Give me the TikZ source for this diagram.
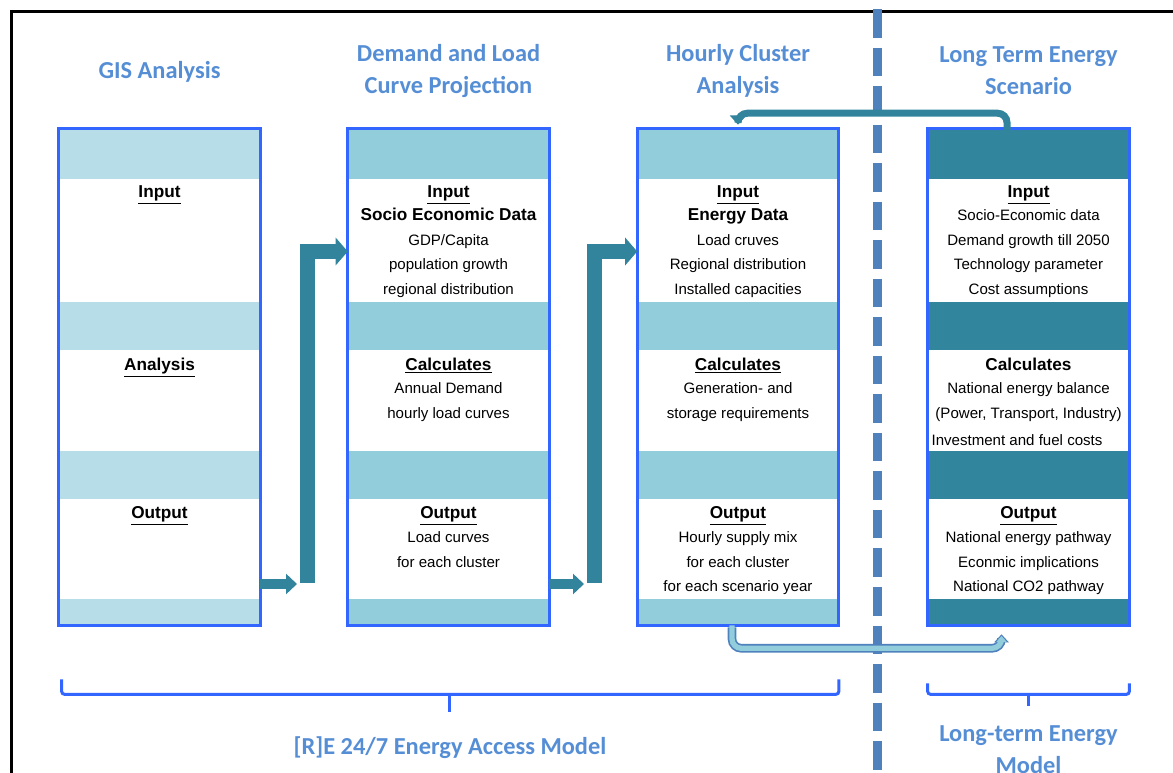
\documentclass[tikz,border=0pt]{standalone}
\usepackage{fontspec}
\setmainfont{Liberation Sans}
\newfontfamily\titlefont{Carlito}
\usetikzlibrary{arrows.meta,positioning,calc}

\definecolor{boxblue}{HTML}{3366FF}
\definecolor{gisband}{HTML}{B7DEE8}
\definecolor{lightband}{HTML}{92CDDC}
\definecolor{darkband}{HTML}{31859C}
\definecolor{flowteal}{HTML}{31849B}
\definecolor{titleblue}{HTML}{558ED5}
\definecolor{splitblue}{HTML}{4F81BD}

\begin{document}
\begin{tikzpicture}[
    x=0.75pt, y=-0.75pt,
    colbox/.style={rectangle,minimum width=150.75pt,minimum height=372pt,inner sep=0pt},
    title/.style={font=\titlefont\bfseries\fontsize{18.3pt}{24pt}\selectfont,text=titleblue,align=center},
    head/.style={font=\bfseries\fontsize{12.9pt}{15pt}\selectfont,anchor=base},
    txt/.style={font=\fontsize{11.3pt}{14pt}\selectfont,anchor=base},
    feed/.style={flowteal,line width=7.5pt,-{Triangle[width=15pt,length=8.25pt]}},
    riser/.style={flowteal,line width=11.25pt,line join=miter,-{Triangle[width=20.25pt,length=9pt]}},
    back/.style={flowteal,line width=5.25pt,rounded corners=7pt,-{Triangle[width=12pt,length=7pt]}},
    bracket/.style={boxblue,line width=2.25pt,rounded corners=2pt}
]
\useasboundingbox (0,0) rectangle (1173,773);

% Frame and split line
\draw[line width=2.25pt] (11,773) -- (11,12) -- (1173,12);
\draw[splitblue,line width=6.75pt,dash pattern=on 21.4pt off 7.5pt] (877,9) -- (877,773);

% Columns
\node[colbox] (c1) at (159.5,377) {};
\node[colbox] (c2) at (448.5,377) {};
\node[colbox] (c3) at (738,377) {};
\node[colbox] (c4) at (1028.5,377) {};
\foreach \c/\f in {c1/gisband,c2/lightband,c3/lightband,c4/darkband}{
  \foreach \a/\b in {0/50,173/221,322/370,470/496}
    \fill[\f] ($(\c.north west)+(0,\a)$) rectangle ($(\c.north east)+(0,\b)$);
  \draw[boxblue,line width=2.25pt] (\c.north west) rectangle (\c.south east);
}

% Titles
\node[title] (t1) at (159.5,72) {GIS Analysis};
\node[title] (t2) at (448.5,71) {Demand and Load\\Curve Projection};
\node[title] (t3) at (738,71) {Hourly Cluster\\Analysis};
\node[title] (t4) at (1028.5,71) {Long Term Energy\\Scenario};

% GIS analysis
\node[head] (i1) at (159.5,197.5) {\underline{Input}};
\node[head] (a1) at (159.5,370.5) {\underline{Analysis}};
\node[head] (o1) at (159.5,518.5) {\underline{Output}};

% Demand and load curve projection
\node[head] (i2) at (448.5,197.5) {\underline{Input}};
\node[head] (s2) at (448.5,220.5) {Socio Economic Data};
\foreach \t [count=\i] in {GDP/Capita,population growth,regional distribution}
  \node[txt] (d\i) at (448.5,221+24.5*\i) {\t};
\node[head] (a2) at (448.5,370.5) {\underline{Calculates}};
\foreach \t [count=\i] in {Annual Demand,hourly load curves}
  \node[txt] (e\i) at (448.5,369+24.5*\i) {\t};
\node[head] (o2) at (448.5,518.5) {\underline{Output}};
\foreach \t [count=\i] in {Load curves,for each cluster}
  \node[txt] (f\i) at (448.5,518+24.5*\i) {\t};

% Hourly cluster analysis
\node[head] (i3) at (738,197.5) {\underline{Input}};
\node[head] (s3) at (738,220.5) {Energy Data};
\foreach \t [count=\i] in {Load cruves,Regional distribution,Installed capacities}
  \node[txt] (g\i) at (738,221+24.5*\i) {\t};
\node[head] (a3) at (738,370.5) {\underline{Calculates}};
\foreach \t [count=\i] in {Generation- and,storage requirements}
  \node[txt] (h\i) at (738,369+24.5*\i) {\t};
\node[head] (o3) at (738,518.5) {\underline{Output}};
\foreach \t [count=\i] in {Hourly supply mix,for each cluster,for each scenario year}
  \node[txt] (k\i) at (738,518+24.5*\i) {\t};

% Long term energy scenario
\node[head] (i4) at (1028.5,197.5) {\underline{Input}};
\foreach \t [count=\i] in {Socio-Economic data,Demand growth till 2050,Technology parameter,Cost assumptions}
  \node[txt] (m\i) at (1028.5,196.5+24.5*\i) {\t};
\node[head] (a4) at (1028.5,370.5) {Calculates};
\node[txt] (n1) at (1028.5,393.5) {National energy balance};
\node[txt] (n2) at (1028.5,418.5) {(Power, Transport, Industry)};
\node[txt] (n3) at (1017,445.5) {Investment and fuel costs};
\node[head] (o4) at (1028.5,518.5) {\underline{Output}};
\foreach \t [count=\i] in {National energy pathway,Econmic implications,National CO2 pathway}
  \node[txt] (p\i) at (1028.5,518+24.5*\i) {\t};

% Flow between columns
\coordinate (g1) at (297,584);
\coordinate (r1) at (307.5,583);
\coordinate (r1t) at (307.5,251.5);
\draw[feed] (c1.east |- g1) -- (g1);
\draw[riser] (r1) -- (r1t) -- (c2.west |- r1t);

\coordinate (g2) at (584,584);
\coordinate (r2) at (594.5,583);
\coordinate (r2t) at (594.5,251.5);
\draw[feed] (c2.east |- g2) -- (g2);
\draw[riser] (r2) -- (r2t) -- (c3.west |- r2t);

% Scenario feeds back, cluster results feed forward
\draw[back] ($(c4.north)+(-21.5,2)$) -- ++(0,-17.5) -| ($(c3.north)+(0,-4)$);
\draw[splitblue,line width=6.5pt,rounded corners=7pt,-{Triangle[width=10.5pt,length=6pt]}]
  ($(c3.south)+(-6,2)$) -- ++(0,21) -| ($(c4.south)+(-27,9)$);
\draw[lightband,line width=4pt,rounded corners=7pt,shorten >=1.3pt,-{Triangle[width=7.5pt,length=4.5pt]}]
  ($(c3.south)+(-6,0)$) -- ++(0,23) -| ($(c4.south)+(-27,9)$);

% Brackets
\draw[bracket] ($(c1.south west)+(3,54)$) |- ($(c3.south east)+(0,69)$) -- ($(c3.south east)+(0,54)$);
\draw[bracket] ($(c1.south west)!0.5!(c3.south east)+(1,69)$) -- ++(0,18);
\draw[bracket] ($(c4.south west)+(0,58)$) |- ($(c4.south east)+(0,69)$) -- ($(c4.south east)+(0,58)$);
\draw[bracket] ($(c4.south)+(0,69)$) -- ++(0,12);

\node[title] (b1) at (450,748) {[R]E 24/7 Energy Access Model};
\node[title] (b2) at (1028.5,750) {Long-term Energy\\Model};

\end{tikzpicture}
\end{document}
